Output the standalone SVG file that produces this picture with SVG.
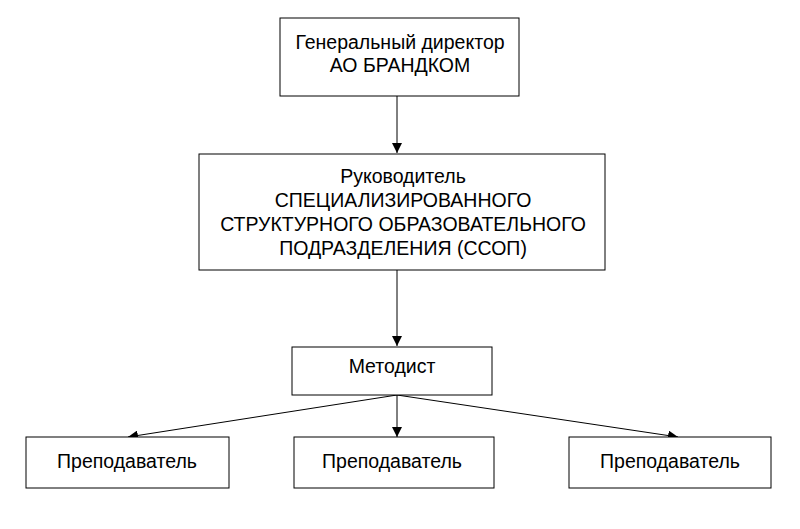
<svg xmlns="http://www.w3.org/2000/svg" width="800" height="529" viewBox="0 0 800 529">
<defs>
<style>
.box{fill:#fff;stroke:#000;stroke-width:1}
.t{font-family:"Liberation Sans",Arial,sans-serif;font-size:19.5px;fill:#000;text-anchor:middle}
.c{stroke:#000;stroke-width:1;fill:none;marker-end:url(#arr)}
</style>
<marker id="arr" viewBox="0 0 10 10" refX="10" refY="5" markerWidth="10" markerHeight="10" markerUnits="userSpaceOnUse" orient="auto">
<path d="M0,0 L10,5 L0,10 z" fill="#000"/>
</marker>
</defs>
<rect width="800" height="529" fill="#fff"/>
<g id="connectors">
<line class="c" x1="397" y1="96" x2="397" y2="153"/>
<line class="c" x1="397" y1="270" x2="397" y2="346"/>
<line class="c" x1="397" y1="395" x2="128" y2="437"/>
<line class="c" x1="397" y1="395" x2="397" y2="437"/>
<line class="c" x1="397" y1="395" x2="678" y2="437"/>
</g>
<g id="director">
<rect class="box" x="280" y="18" width="239" height="78"/>
<text class="t" x="400" y="49">Генеральный директор</text>
<text class="t" x="400" y="72">АО БРАНДКОМ</text>
</g>
<g id="head">
<rect class="box" x="199" y="154" width="406" height="116"/>
<text class="t" x="403" y="183">Руководитель</text>
<text class="t" x="403" y="207">СПЕЦИАЛИЗИРОВАННОГО</text>
<text class="t" x="403" y="231">СТРУКТУРНОГО ОБРАЗОВАТЕЛЬНОГО</text>
<text class="t" x="403" y="255">ПОДРАЗДЕЛЕНИЯ (ССОП)</text>
</g>
<g id="methodist">
<rect class="box" x="292" y="347" width="200" height="48"/>
<text class="t" x="392" y="373">Методист</text>
</g>
<g id="teacher1">
<rect class="box" x="26" y="437" width="203" height="51"/>
<text class="t" x="127" y="468">Преподаватель</text>
</g>
<g id="teacher2">
<rect class="box" x="294" y="437" width="200" height="51"/>
<text class="t" x="392" y="468">Преподаватель</text>
</g>
<g id="teacher3">
<rect class="box" x="569" y="437" width="202" height="51"/>
<text class="t" x="670" y="468">Преподаватель</text>
</g>
</svg>
